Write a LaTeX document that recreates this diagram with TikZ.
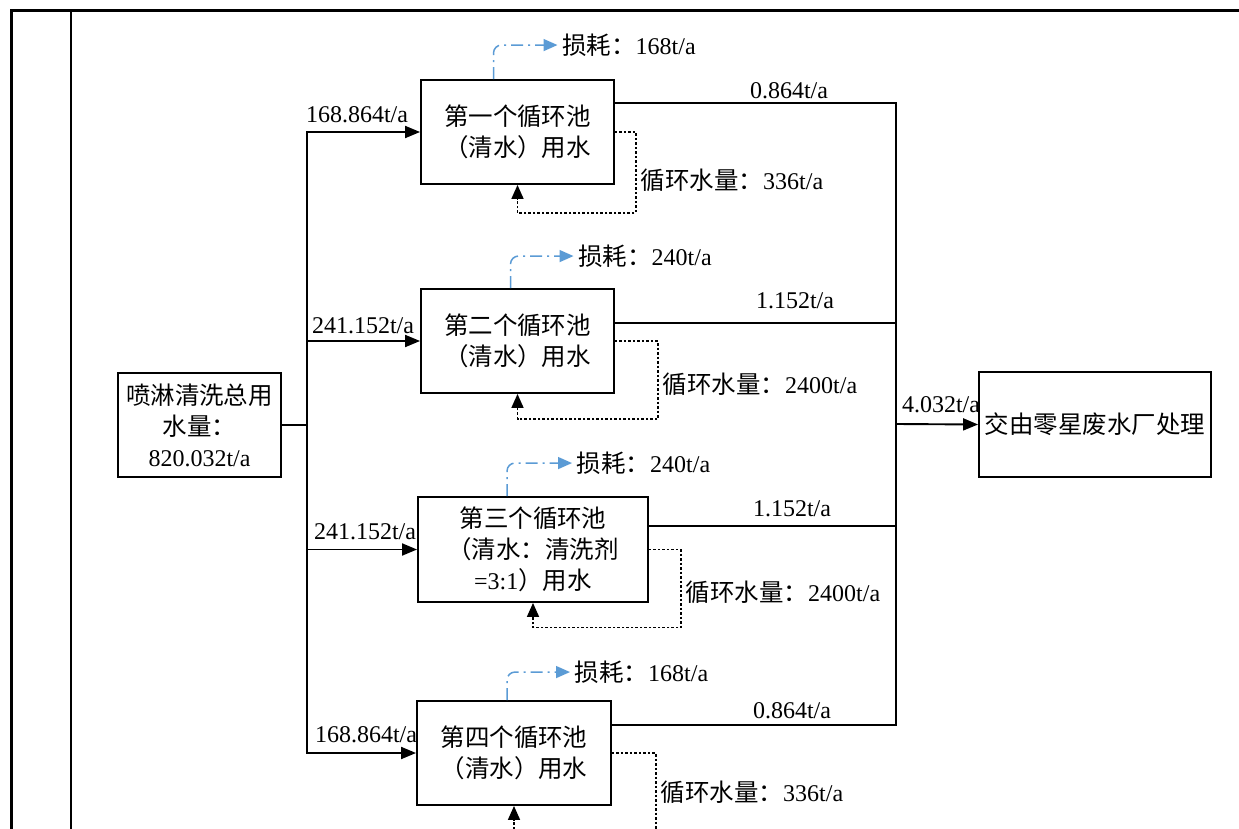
\documentclass[tikz,border=0pt]{standalone}
\usepackage{fontspec}
\setmainfont{Liberation Serif}
\newfontfamily\cjk{Noto Sans CJK SC}[Scale=1.02]
\usepackage{tikz}
\usetikzlibrary{arrows.meta, calc}
\definecolor{lossblue}{HTML}{5B9BD5}
\newcommand{\zh}[1]{{\cjk #1}}

\begin{document}
\begin{tikzpicture}[x=1pt, y=-1pt,
    box/.style={rectangle, draw=black, line width=1.9pt, align=center,
                inner sep=2pt, font=\fontsize{24}{31}\selectfont},
    flow/.style={inner sep=0pt, font=\fontsize{24}{28}\selectfont},
    note/.style={inner sep=4pt, text=black, font=\fontsize{24}{28}\selectfont},
    line/.style={line width=1.9pt, black},
    arr/.style={line width=1.9pt, black, -{Triangle[length=15pt, width=12pt]}},
    loss/.style={line width=1.5pt, lossblue, rounded corners=8pt,
                 dash pattern=on 12pt off 5pt on 2pt off 5pt,
                 -{Triangle[length=14pt, width=12pt]}},
    recyc/.style={line width=1.7pt, black, dash pattern=on 2.5pt off 2pt,
                  -{Triangle[length=14pt, width=12pt]}}
]
    \useasboundingbox (0,0) rectangle (1239,829);
    \clip (0,0) rectangle (1239,829);

    % frame
    \draw[line width=3pt] (11,835) -- (11,11) -- (1245,11);
    \draw[line width=1.2pt] (71,11) -- (71,835);

    % boxes
    \node[box, minimum width=163, minimum height=104] (src) at (199.5,425)
        {\zh{喷淋清洗总用}\\\zh{水量：}\\820.032t/a};
    \node[box, minimum width=193, minimum height=104] (box1) at (517.5,132)
        {\zh{第一个循环池}\\\zh{（清水）用水}};
    \node[box, minimum width=193, minimum height=104] (box2) at (517.5,341)
        {\zh{第二个循环池}\\\zh{（清水）用水}};
    \node[box, minimum width=230, minimum height=105] (box3) at (533,549.5)
        {\zh{第三个循环池}\\\zh{（清水：清洗剂}\\=3:1\zh{）用水}};
    \node[box, minimum width=194, minimum height=104] (box4) at (514,753)
        {\zh{第四个循环池}\\\zh{（清水）用水}};
    \node[box, minimum width=232, minimum height=105] (final) at (1095,424.5)
        {\zh{交由零星废水厂处理}};

    \coordinate (trunk) at (307,425);
    \coordinate (col) at (896,424);

    % supply
    \draw[line] (src.east) -- (trunk);
    \draw[arr] (trunk) |- (box1.west);
    \draw[arr] (trunk) |- (box2.west);
    \draw[arr] (trunk) |- (box3.west);
    \draw[arr] (trunk) |- (box4.west);
    \node[flow, anchor=base] (in1) at (357,123) {168.864t/a};
    \node[flow, anchor=base] (in2) at (363,333) {241.152t/a};
    \node[flow, anchor=base] (in3) at (365,539) {241.152t/a};
    \node[flow, anchor=base] (in4) at (366,742) {168.864t/a};

    % discharge
    \draw[line] ([yshift=-24pt]box1.north east) -| (col);
    \draw[line] ([yshift=-35pt]box2.north east) -| (col);
    \draw[line] ([yshift=-30pt]box3.north east) -| (col);
    \draw[line] ([yshift=-25pt]box4.north east) -| (col);
    \draw[arr] (col) -- (final.west);
    \node[flow, anchor=base] (out1) at (789,99) {0.864t/a};
    \node[flow, anchor=base] (out2) at (795,308) {1.152t/a};
    \node[flow, anchor=base] (out3) at (792,516) {1.152t/a};
    \node[flow, anchor=base] (out4) at (792,718) {0.864t/a};
    \node[flow, anchor=base] (outall) at (941,412) {4.032t/a};

    % losses
    \draw[loss] ([xshift=-24pt]box1.north) |- ++(64,-34) node[note, right] (l1) {\zh{损耗：}168t/a};
    \draw[loss] ([xshift=-7pt]box2.north) |- ++(63,-32) node[note, right] (l2) {\zh{损耗：}240t/a};
    \draw[loss] ([xshift=-26pt]box3.north) |- ++(65,-33) node[note, right] (l3) {\zh{损耗：}240t/a};
    \draw[loss] ([xshift=-7pt]box4.north) |- ++(63,-28) node[note, right] (l4) {\zh{损耗：}168t/a};

    % recycling
    \draw[recyc] (box1.east) -- ++(21,0) -- ++(0,81) node[note, right, pos=0.6] (r1) {\zh{循环水量：}336t/a} -| (box1.south);
    \draw[recyc] (box2.east) -- ++(43,0) -- ++(0,78) node[note, right, pos=0.55] (r2) {\zh{循环水量：}2400t/a} -| (box2.south);
    \draw[recyc] (box3.east) -- ++(32,0) -- ++(0,78) node[note, right, pos=0.55] (r3) {\zh{循环水量：}2400t/a} -| (box3.south);
    \draw[recyc] (box4.east) -- ++(44,0) -- ++(0,78) node[note, right, pos=0.5] (r4) {\zh{循环水量：}336t/a} -| (box4.south);
\end{tikzpicture}
\end{document}
